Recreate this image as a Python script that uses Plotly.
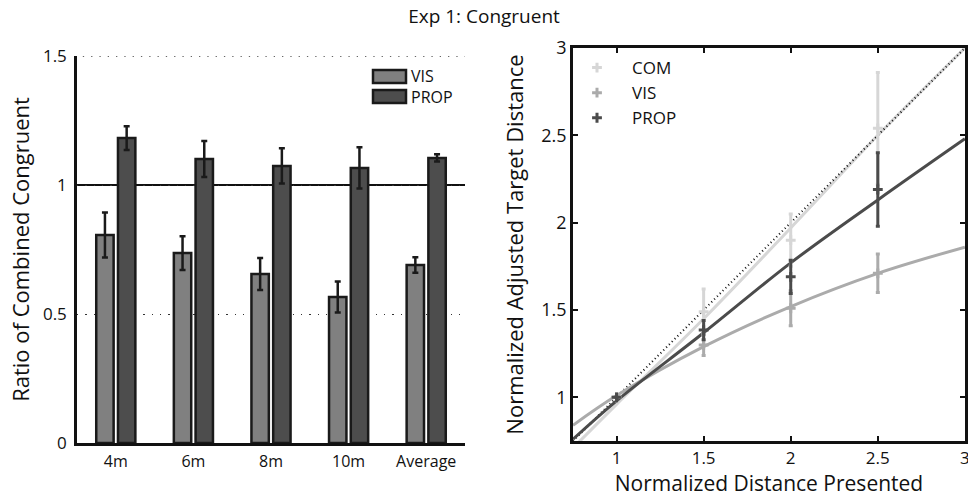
import plotly.graph_objects as go

# ---- Left panel data ----
categories = ["4m", "6m", "8m", "10m", "Average"]
vis_ratio = [0.806, 0.736, 0.655, 0.566, 0.690]
vis_ratio_err = [0.087, 0.065, 0.062, 0.060, 0.030]
prop_ratio = [1.182, 1.101, 1.074, 1.066, 1.105]
prop_ratio_err = [0.046, 0.070, 0.068, 0.080, 0.014]

# ---- Right panel data ----
dist_presented = [1, 1.5, 2, 2.5]
com_mean = [1, 1.49, 1.90, 2.54]
com_err = [0, 0.13, 0.15, 0.32]
vis_mean = [1, 1.30, 1.51, 1.71]
vis_err = [0, 0.06, 0.10, 0.11]
prop_mean = [1, 1.385, 1.69, 2.19]
prop_err = [0, 0.055, 0.095, 0.21]

fit_x = [0.75, 1, 1.5, 2, 2.5, 3]
com_fit = [0.71, 0.96, 1.45, 1.97, 2.50, 3.00]
vis_fit = [0.84, 1.01, 1.29, 1.52, 1.71, 1.86]
prop_fit = [0.76, 0.98, 1.37, 1.77, 2.13, 2.48]
identity = [0.75, 3]

FONT = "Open Sans"
W, H = 968, 498
C_VIS_BAR = "#808080"
C_PROP_BAR = "#4d4d4d"
C_COM = "#d6d6d6"
C_VIS = "#ababab"
C_PROP = "#4b4b4b"

xpos = list(range(1, len(categories) + 1))

fig = go.Figure()

fig.add_trace(go.Bar(
    x=xpos, y=vis_ratio, name="VIS", marker=dict(color=C_VIS_BAR, line=dict(color="#1a1a1a", width=2.5)),
    error_y=dict(type="data", array=vis_ratio_err, color="#1a1a1a", thickness=2.5, width=3),
    xaxis="x", yaxis="y", showlegend=False))
fig.add_trace(go.Bar(
    x=xpos, y=prop_ratio, name="PROP", marker=dict(color=C_PROP_BAR, line=dict(color="#1a1a1a", width=2.5)),
    error_y=dict(type="data", array=prop_ratio_err, color="#1a1a1a", thickness=2.5, width=3),
    xaxis="x", yaxis="y", showlegend=False))

# right panel
fig.add_trace(go.Scatter(x=fit_x, y=com_fit, mode="lines", line=dict(color=C_COM, width=3, shape="spline"),
                         xaxis="x2", yaxis="y2", showlegend=False))
fig.add_trace(go.Scatter(x=identity, y=identity, mode="lines", line=dict(color="#111111", width=2, dash="1px,3px"),
                         xaxis="x2", yaxis="y2", showlegend=False))
fig.add_trace(go.Scatter(x=fit_x, y=vis_fit, mode="lines", line=dict(color=C_VIS, width=3, shape="spline"),
                         xaxis="x2", yaxis="y2", showlegend=False))
fig.add_trace(go.Scatter(x=fit_x, y=prop_fit, mode="lines", line=dict(color=C_PROP, width=3, shape="spline"),
                         xaxis="x2", yaxis="y2", showlegend=False))

for name, m, e, c in [("COM", com_mean, com_err, C_COM), ("VIS", vis_mean, vis_err, C_VIS), ("PROP", prop_mean, prop_err, C_PROP)]:
    fig.add_trace(go.Scatter(
        x=dist_presented, y=m, mode="markers", name=name,
        marker=dict(symbol="cross-thin", size=7, color=c, line=dict(color=c, width=3)),
        error_y=dict(type="data", array=e, color=c, thickness=3, width=2),
        xaxis="x2", yaxis="y2", legend="legend2"))

def px_x(p):
    return p / W

def px_y(p):
    return 1 - p / H

fig.update_layout(
    width=W, height=H,
    margin=dict(l=0, r=0, t=0, b=0, autoexpand=False),
    paper_bgcolor="white", plot_bgcolor="white",
    font=dict(family=FONT, color="#111111", size=16),
    barmode="group", bargap=0.44, bargroupgap=0.2,
    title=dict(text="Exp 1: Congruent", x=0.5, xanchor="center", y=px_y(16), yanchor="middle",
               font=dict(size=19, family=FONT, color="#111111")),
    xaxis=dict(domain=[px_x(77), px_x(465)], range=[0.5, 5.5], tickmode="array", tickvals=xpos,
               ticktext=categories, showline=True, linecolor="#111111", linewidth=2.5, ticks="",
               showgrid=False, zeroline=False, tickfont=dict(size=16), ticklabelstandoff=2),
    yaxis=dict(domain=[px_y(443), px_y(56)], range=[0, 1.5], tickvals=[0, 0.5, 1, 1.5],
               ticktext=["0", "0.5", "1", "1.5"],
               showline=True, linecolor="#111111", linewidth=2.5, ticks="", zeroline=False,
               showgrid=True, gridcolor="#333333", gridwidth=1.3, griddash="1.3px,7px",
               title=dict(text="Ratio of Combined Congruent", font=dict(size=22), standoff=8),
               tickfont=dict(size=17), ticklabelstandoff=4),
    xaxis2=dict(domain=[px_x(573), px_x(965)], range=[0.75, 3.0005], tickvals=[1, 1.5, 2, 2.5, 3],
                ticktext=["1", "1.5", "2", "2.5", "3"], ticklabeloverflow="allow",
                showline=True, mirror="allticks", linecolor="#111111", linewidth=2.5,
                ticks="inside", ticklen=5, tickwidth=2, tickcolor="#111111",
                showgrid=False, zeroline=False, anchor="y2", ticklabelstandoff=0,
                title=dict(text="Normalized Distance Presented", font=dict(size=21), standoff=6),
                tickfont=dict(size=17)),
    yaxis2=dict(domain=[px_y(441), px_y(48)], range=[0.75, 3], tickvals=[1, 1.5, 2, 2.5, 3],
                ticktext=["1", "1.5", "2", "2.5", "3"], ticklabeloverflow="allow",
                showline=True, mirror="allticks", linecolor="#111111", linewidth=2.5,
                ticks="inside", ticklen=5, tickwidth=2, tickcolor="#111111",
                showgrid=False, zeroline=False, anchor="x2",
                title=dict(text="Normalized Adjusted Target Distance", font=dict(size=22), standoff=12),
                tickfont=dict(size=18)),
    legend2=dict(x=px_x(562), y=px_y(50), xanchor="left", yanchor="top", itemwidth=60,
                 bgcolor="rgba(0,0,0,0)", font=dict(size=17), tracegroupgap=0),
    shapes=[
        dict(type="line", xref="x domain", yref="y", x0=0, x1=1, y0=1, y1=1,
             line=dict(color="#111111", width=1.8), layer="below"),
        dict(type="line", xref="x domain", yref="y", x0=0.015, x1=1, y0=1.5, y1=1.5,
             line=dict(color="#333333", width=1.3, dash="1.3px,7px"), layer="below"),
        dict(type="rect", xref="paper", yref="paper", x0=px_x(373), x1=px_x(406), y0=px_y(83), y1=px_y(70),
             fillcolor=C_VIS_BAR, line=dict(color="#1a1a1a", width=2.5)),
        dict(type="rect", xref="paper", yref="paper", x0=px_x(373), x1=px_x(406), y0=px_y(103), y1=px_y(90),
             fillcolor=C_PROP_BAR, line=dict(color="#1a1a1a", width=2.5)),
    ],
    annotations=[
        dict(text="VIS", xref="paper", yref="paper", x=px_x(409), y=px_y(76), xanchor="left", yanchor="middle",
             showarrow=False, font=dict(size=16)),
        dict(text="PROP", xref="paper", yref="paper", x=px_x(409), y=px_y(97), xanchor="left", yanchor="middle",
             showarrow=False, font=dict(size=16)),
    ],
)

fig.write_html("out.html")
